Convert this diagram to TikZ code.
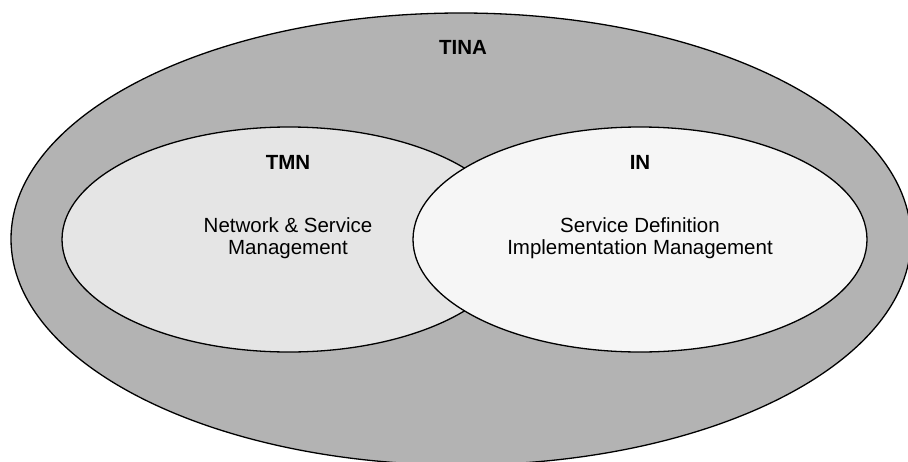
\documentclass[tikz,border=0pt]{standalone}
\usepackage{fontspec}
\setmainfont{Liberation Sans}
\usetikzlibrary{shapes.geometric}
\definecolor{tinagray}{HTML}{B3B3B3}
\definecolor{tmnfill}{HTML}{E5E5E5}
\definecolor{infill}{HTML}{F6F6F6}
\tikzset{
  ring/.style={draw=black, line width=1.3pt},
  lbl/.style={font=\fontsize{20.5}{22}\selectfont\bfseries, inner sep=0pt},
  body/.style={font=\fontsize{20.5}{21.5}\selectfont, align=center, inner sep=0pt}
}
\begin{document}
\begin{tikzpicture}[x=1pt,y=-1pt]
\useasboundingbox (0,0) rectangle (908,461);
\begin{scope}
\clip (0,0) rectangle (908,461);
\fill[white] (0,0) rectangle (908,461);
\draw[ring, fill=tinagray] (461,239) ellipse [x radius=450pt, y radius=226pt];
\draw[ring, fill=tmnfill] (289,239.5) ellipse [x radius=227pt, y radius=112.5pt];
\draw[ring, fill=infill] (640,239.5) ellipse [x radius=227pt, y radius=112.5pt];
\end{scope}
\node[lbl] (tina) at (463,47) {TINA};
\node[lbl] (tmn) at (288,162) {TMN};
\node[lbl] (in) at (640,162) {IN};
\node[body] (tmnbody) at (288,238) {Network \& Service\\Management};
\node[body] (inbody) at (640,238) {Service Definition\\Implementation Management};
\end{tikzpicture}
\end{document}
